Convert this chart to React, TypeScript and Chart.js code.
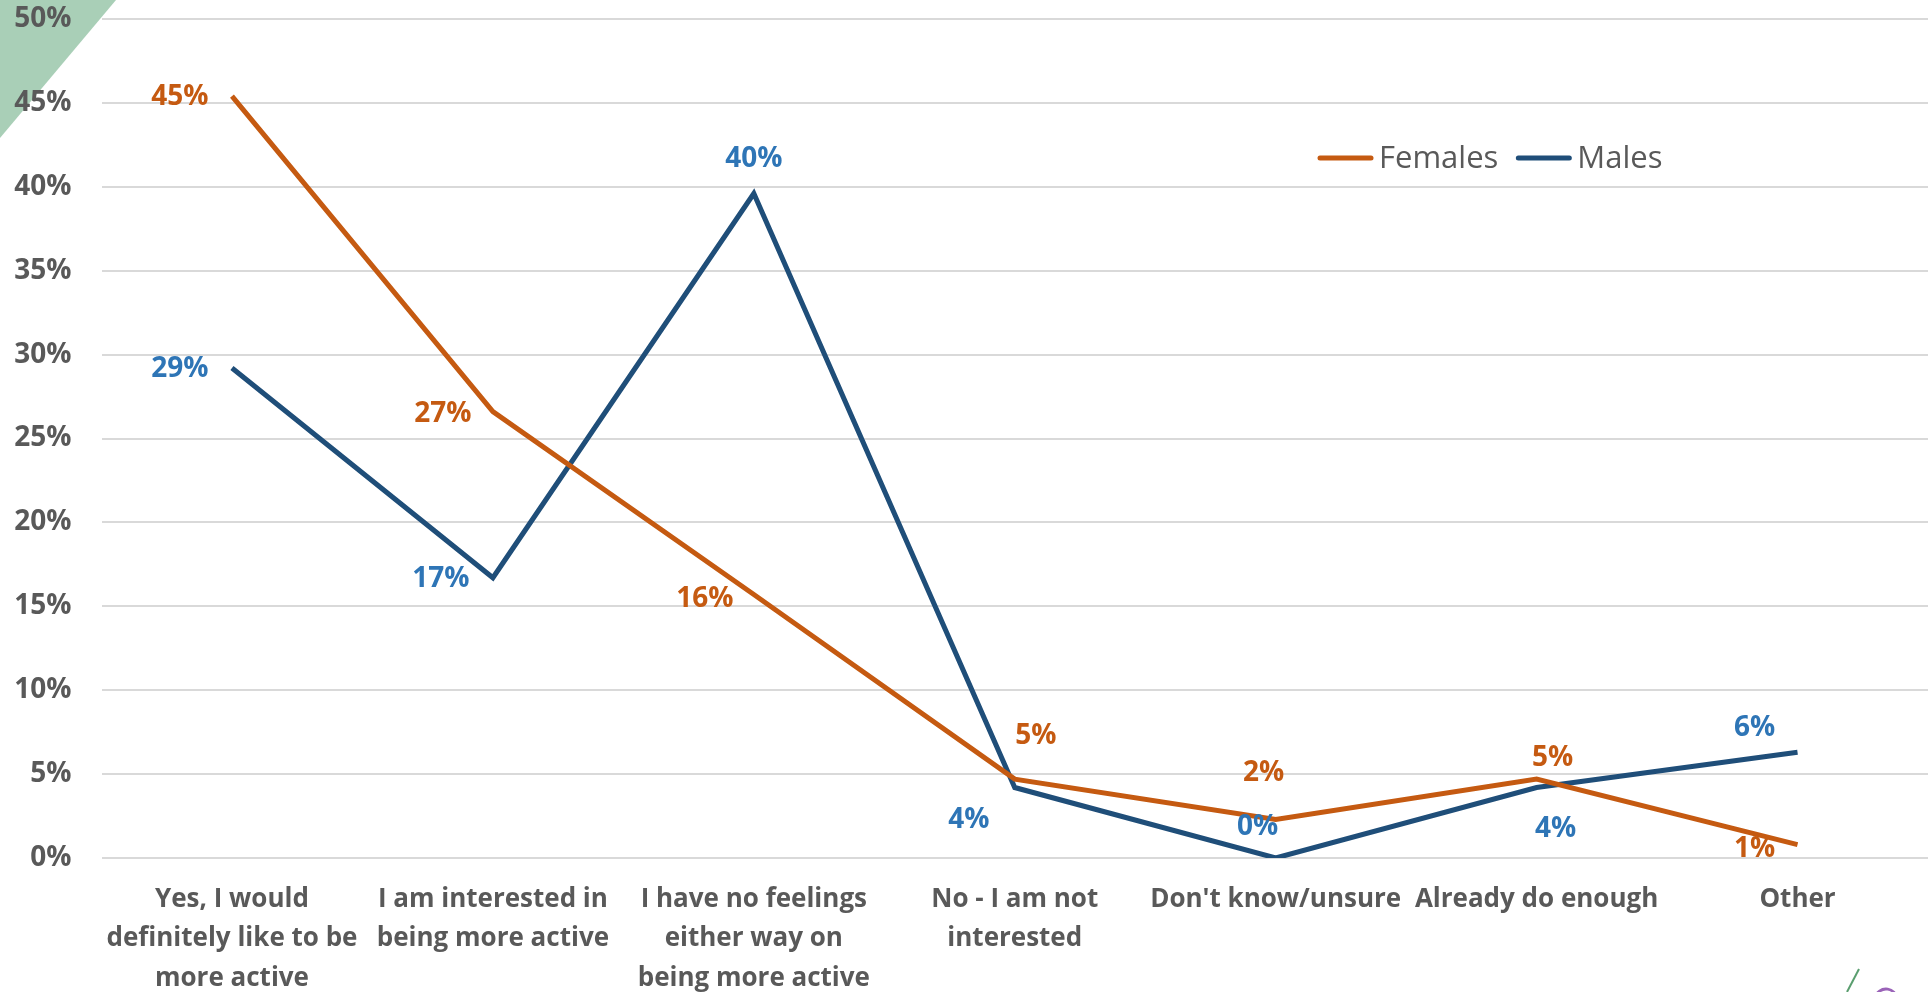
import React, { useEffect, useRef } from "react";
import { Chart, registerables } from "chart.js";

Chart.register(...registerables);

const categories: string[][] = [
  ["Yes, I would", "definitely like to be", "more active"],
  ["I am interested in", "being more active"],
  ["I have no feelings", "either way on", "being more active"],
  ["No - I am not", "interested"],
  ["Don't know/unsure"],
  ["Already do enough"],
  ["Other"],
];

const femalesValues = [45.4, 26.6, 15.7, 4.7, 2.3, 4.7, 0.8];
const malesValues = [29.2, 16.7, 39.6, 4.2, 0, 4.2, 6.3];

const yTicks = [0, 5, 10, 15, 20, 25, 30, 35, 40, 45, 50];

// label placement (offset of label centre from its point, px)
const femalesLabelOffsets = [
  [-52, 1], [-50, 2], [-49, 4], [21, -43], [-12, -46], [16, -21], [-43, 4],
];
const malesLabelOffsets = [
  [-52, 1], [-52, 1], [0, -34], [-46, 33], [-18, -31], [19, 42], [-43, -24],
];

const FONT = "'Open Sans', 'DejaVu Sans', sans-serif";
const GREY = "#595959";
const ORANGE = "#C55A11";
const NAVY = "#1F4E79";
const BLUE_LABEL = "#2E75B6";

export default function App() {
  const ref = useRef<HTMLCanvasElement | null>(null);

  useEffect(() => {
    if (!ref.current) return;

    const decorPlugin = {
      id: "decor",
      beforeDraw(chart: any) {
        const ctx = chart.ctx;
        ctx.save();
        ctx.fillStyle = "#ffffff";
        ctx.fillRect(0, 0, chart.width, chart.height);
        ctx.fillStyle = "#a9cfb7";
        ctx.beginPath();
        ctx.moveTo(0, 0);
        ctx.lineTo(116, 0);
        ctx.lineTo(0, 138);
        ctx.closePath();
        ctx.fill();
        // bottom-right logo fragment
        ctx.strokeStyle = "#5a9e6f";
        ctx.lineWidth = 2;
        ctx.beginPath();
        ctx.moveTo(1859, 969);
        ctx.lineTo(1847, 992);
        ctx.stroke();
        ctx.strokeStyle = "#9a63b8";
        ctx.lineWidth = 3;
        ctx.beginPath();
        ctx.arc(1886, 1000, 11, Math.PI * 1.05, Math.PI * 1.95);
        ctx.stroke();
        ctx.restore();
      },
    };

    const labelsPlugin = {
      id: "pointLabels",
      afterDatasetsDraw(chart: any) {
        const ctx = chart.ctx;
        const offsets = [femalesLabelOffsets, malesLabelOffsets];
        const colors = [ORANGE, BLUE_LABEL];
        ctx.save();
        ctx.font = `bold 28px ${FONT}`;
        ctx.textAlign = "center";
        ctx.textBaseline = "middle";
        chart.data.datasets.forEach((ds: any, di: number) => {
          const meta = chart.getDatasetMeta(di);
          meta.data.forEach((pt: any, i: number) => {
            const v = ds.data[i];
            const [dx, dy] = offsets[di][i];
            ctx.fillStyle = colors[di];
            ctx.fillText(Math.round(v) + "%", pt.x + dx, pt.y + dy);
          });
        });
        ctx.restore();
      },
      afterDraw(chart: any) {
        // legend
        const ctx = chart.ctx;
        ctx.save();
        ctx.font = `31px ${FONT}`;
        ctx.textBaseline = "middle";
        ctx.textAlign = "left";
        let x = 1318;
        const y = 158;
        chart.data.datasets.forEach((ds: any) => {
          ctx.strokeStyle = ds.borderColor;
          ctx.lineWidth = 5;
          ctx.lineCap = "round";
          ctx.beginPath();
          ctx.moveTo(x + 2, y);
          ctx.lineTo(x + 53, y);
          ctx.stroke();
          x += 61;
          ctx.fillStyle = GREY;
          ctx.fillText(ds.label, x, y + 1);
          x += ctx.measureText(ds.label).width + 18;
        });
        ctx.restore();
      },
    };

    const chart = new Chart(ref.current, {
      type: "line",
      data: {
        labels: categories,
        datasets: [
          {
            label: "Females",
            data: femalesValues,
            borderColor: ORANGE,
            backgroundColor: ORANGE,
            borderWidth: 5,
            pointRadius: 0,
            tension: 0,
          },
          {
            label: "Males",
            data: malesValues,
            borderColor: NAVY,
            backgroundColor: NAVY,
            borderWidth: 5,
            pointRadius: 0,
            tension: 0,
          },
        ],
      },
      options: {
        responsive: false,
        animation: false,
        devicePixelRatio: 1,
        layout: { padding: { top: 19, right: 3, left: 0, bottom: 0 } },
        plugins: {
          legend: { display: false },
          tooltip: { enabled: false },
        },
        scales: {
          x: {
            offset: true,
            grid: { display: false, drawTicks: false },
            border: { display: false },
            ticks: {
              autoSkip: false,
              maxRotation: 0,
              minRotation: 0,
              padding: 22,
              color: GREY,
              font: { family: FONT, size: 26, weight: "bold", lineHeight: 1.515 },
            },
            afterFit(s: any) {
              s.height = 134;
            },
          },
          y: {
            min: 0,
            max: 50,
            afterBuildTicks(s: any) {
              s.ticks = yTicks.map((v) => ({ value: v }));
            },
            grid: { color: "#d9d9d9", lineWidth: 2, drawTicks: false },
            border: { display: false },
            ticks: {
              padding: 30,
              color: GREY,
              font: { family: FONT, size: 28, weight: "bold" },
              callback: (v: any) => v + "%",
            },
            afterFit(s: any) {
              s.width = 101.5;
              s.paddingTop = 0;
              s.paddingBottom = 0;
            },
          },
        },
      },
      plugins: [decorPlugin, labelsPlugin],
    });

    return () => chart.destroy();
  }, []);

  return (
    <div style={{ position: "fixed", left: 0, top: 0, width: 1931, height: 992, background: "#fff" }}>
      <canvas ref={ref} width={1931} height={992} style={{ display: "block" }} />
    </div>
  );
}
